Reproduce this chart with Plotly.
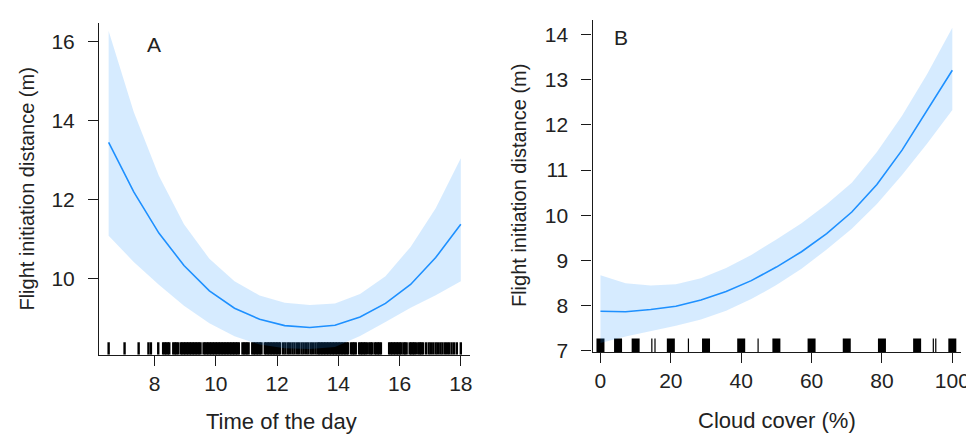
import plotly.graph_objects as go

# ---------------- Data ----------------
# Panel A: Time of the day
time_grid = [6.50, 7.32, 8.14, 8.96, 9.79, 10.61, 11.43, 12.25, 13.07, 13.89, 14.71, 15.54, 16.36, 17.18, 18.00]
time_fit = [13.44, 12.19, 11.15, 10.33, 9.69, 9.25, 8.97, 8.81, 8.76, 8.82, 9.03, 9.37, 9.85, 10.53, 11.37]
time_upper = [16.26, 14.21, 12.60, 11.37, 10.50, 9.93, 9.57, 9.39, 9.33, 9.37, 9.61, 10.06, 10.80, 11.78, 13.04]
time_lower = [11.08, 10.42, 9.84, 9.31, 8.87, 8.54, 8.33, 8.24, 8.22, 8.27, 8.55, 8.90, 9.26, 9.58, 9.93]

time_rug = [
    6.50, 7.02, 7.48, 7.80, 7.88, 8.12,
    8.28, 8.33, 8.38, 8.43, 8.48,
    8.61, 8.66, 8.71, 8.76,
    8.85, 8.90, 8.95, 9.00, 9.05, 9.10, 9.15, 9.20, 9.25, 9.30, 9.35, 9.40, 9.45, 9.50,
    9.60, 9.65, 9.70, 9.75, 9.80, 9.85, 9.90, 9.95, 10.00, 10.05, 10.10, 10.15, 10.20,
    10.25, 10.30, 10.35, 10.40, 10.45, 10.50, 10.55, 10.60, 10.65, 10.70, 10.75,
    10.87, 10.92, 10.97, 11.02, 11.07,
    11.19, 11.24, 11.29, 11.34, 11.39, 11.44, 11.49,
    11.60, 11.65, 11.70, 11.75, 11.80, 11.85, 11.90, 11.95, 12.00, 12.05, 12.10,
    12.20, 12.27, 12.35, 12.42, 12.50, 12.57, 12.65, 12.72, 12.80, 12.87, 12.95, 13.02,
    13.10, 13.17, 13.25,
    13.32, 13.37, 13.42, 13.47, 13.52, 13.57, 13.62, 13.67, 13.72, 13.77, 13.82, 13.87,
    13.92, 13.97, 14.02, 14.07, 14.12, 14.17, 14.22, 14.27, 14.32,
    14.42, 14.47, 14.52, 14.57,
    14.68, 14.73, 14.78, 14.83, 14.88, 14.93,
    15.01, 15.06, 15.11,
    15.19, 15.24, 15.29, 15.34, 15.39,
    15.66, 15.71, 15.76, 15.81, 15.86, 15.91, 15.96, 16.01, 16.06, 16.13, 16.18, 16.23,
    16.33, 16.38, 16.43, 16.48, 16.53, 16.61, 16.66, 16.71, 16.76,
    16.86, 16.95, 17.02, 17.10, 17.18, 17.25, 17.33, 17.40, 17.48, 17.55, 17.62, 17.70,
    17.78, 17.87, 18.00,
]

# Panel B: Cloud cover
cloud_grid = [0, 7.14, 14.29, 21.43, 28.57, 35.71, 42.86, 50, 57.14, 64.29, 71.43, 78.57, 85.71, 92.86, 100]
cloud_fit = [7.87, 7.86, 7.91, 7.98, 8.12, 8.31, 8.55, 8.85, 9.19, 9.59, 10.07, 10.68, 11.44, 12.31, 13.21]
cloud_upper = [8.67, 8.49, 8.44, 8.47, 8.60, 8.83, 9.12, 9.46, 9.82, 10.24, 10.72, 11.40, 12.20, 13.13, 14.15]
cloud_lower = [7.17, 7.31, 7.43, 7.55, 7.69, 7.88, 8.14, 8.45, 8.81, 9.24, 9.70, 10.25, 10.89, 11.59, 12.33]

cloud_rug_many = [0, 5, 10, 20, 30, 40, 50, 60, 70, 80, 90, 100]   # many tied observations
cloud_rug_few = [14.6, 15.5, 25, 44.8, 94.6, 95.3]

# Axis settings
time_xrange = [6.19, 18.29]
time_yrange = [8.07, 16.47]
cloud_xrange = [-2.25, 102.5]
cloud_yrange = [6.97, 14.33]
time_xticks = [8, 10, 12, 14, 16, 18]
time_yticks = [10, 12, 14, 16]
cloud_xticks = [0, 20, 40, 60, 80, 100]
cloud_yticks = [7, 8, 9, 10, 11, 12, 13, 14]

W, H = 974, 436
LINE = "rgb(30,144,255)"
BAND = "rgba(30,144,255,0.18)"
FONT = "Liberation Sans, Arial, sans-serif"


def rug_xy(vals, base, height):
    xs, ys = [], []
    for v in vals:
        xs += [v, v, None]
        ys += [base, base + height, None]
    return xs, ys


fig = go.Figure()

# --- Panel A ---
rx, ry = rug_xy(time_rug, time_yrange[0], 0.32)
fig.add_trace(go.Scatter(x=rx, y=ry, mode="lines", line=dict(color="black", width=2.4),
                         xaxis="x", yaxis="y", hoverinfo="skip", showlegend=False))
fig.add_trace(go.Scatter(x=time_grid + time_grid[::-1], y=time_upper + time_lower[::-1],
                         fill="toself", fillcolor=BAND, line=dict(width=0), mode="lines",
                         xaxis="x", yaxis="y", hoverinfo="skip", showlegend=False))
fig.add_trace(go.Scatter(x=time_grid, y=time_fit, mode="lines", line=dict(color=LINE, width=1.6),
                         xaxis="x", yaxis="y", showlegend=False))

# --- Panel B ---
rx, ry = rug_xy(cloud_rug_many, cloud_yrange[0], 0.30)
fig.add_trace(go.Scatter(x=rx, y=ry, mode="lines", line=dict(color="black", width=8),
                         xaxis="x2", yaxis="y2", hoverinfo="skip", showlegend=False))
rx, ry = rug_xy(cloud_rug_few, cloud_yrange[0], 0.30)
fig.add_trace(go.Scatter(x=rx, y=ry, mode="lines", line=dict(color="black", width=1.2),
                         xaxis="x2", yaxis="y2", hoverinfo="skip", showlegend=False))
fig.add_trace(go.Scatter(x=cloud_grid + cloud_grid[::-1], y=cloud_upper + cloud_lower[::-1],
                         fill="toself", fillcolor=BAND, line=dict(width=0), mode="lines",
                         xaxis="x2", yaxis="y2", hoverinfo="skip", showlegend=False))
fig.add_trace(go.Scatter(x=cloud_grid, y=cloud_fit, mode="lines", line=dict(color=LINE, width=1.6),
                         xaxis="x2", yaxis="y2", showlegend=False))

axis_common = dict(showline=True, linecolor="#1a1a1a", linewidth=1.3, ticks="outside",
                   ticklen=10, tickwidth=1.3, tickcolor="#1a1a1a", showgrid=False, zeroline=False,
                   tickfont=dict(family=FONT, size=21, color="#222"), fixedrange=True)

fig.update_layout(
    width=W, height=H, margin=dict(l=0, r=0, t=0, b=0),
    paper_bgcolor="white", plot_bgcolor="white", showlegend=False,
    xaxis=dict(domain=[92 / W, 466 / W], range=time_xrange, tickvals=time_xticks,
               anchor="y", ticklabelstandoff=0, **axis_common),
    yaxis=dict(domain=[1 - 355 / H, 1 - 15 / H], range=time_yrange, tickvals=time_yticks,
               anchor="x", ticklabelstandoff=9, **axis_common),
    xaxis2=dict(domain=[590 / W, 962 / W], range=cloud_xrange, tickvals=cloud_xticks,
                anchor="y2", ticklabelstandoff=0, **axis_common),
    yaxis2=dict(domain=[1 - 352 / H, 1 - 12 / H], range=cloud_yrange, tickvals=cloud_yticks,
                anchor="x2", ticklabelstandoff=9, **axis_common),
)

def ann(text, px, py, angle=0, size=20):
    fig.add_annotation(text=text, x=px / W, y=1 - py / H, xref="paper", yref="paper",
                       showarrow=False, textangle=angle, xanchor="center", yanchor="middle",
                       font=dict(family=FONT, size=size, color="#222"))

ann("Time of the day", 276, 423, size=22)
ann("Cloud cover (%)", 776, 422, size=22)
ann("Flight initiation distance (m)", 19, 185, angle=-90, size=20)
ann("Flight initiation distance (m)", 516, 182, angle=-90, size=20)
ann("A", 147, 37, size=21)
ann("B", 619, 30, size=21)

fig.write_html("out.html")
